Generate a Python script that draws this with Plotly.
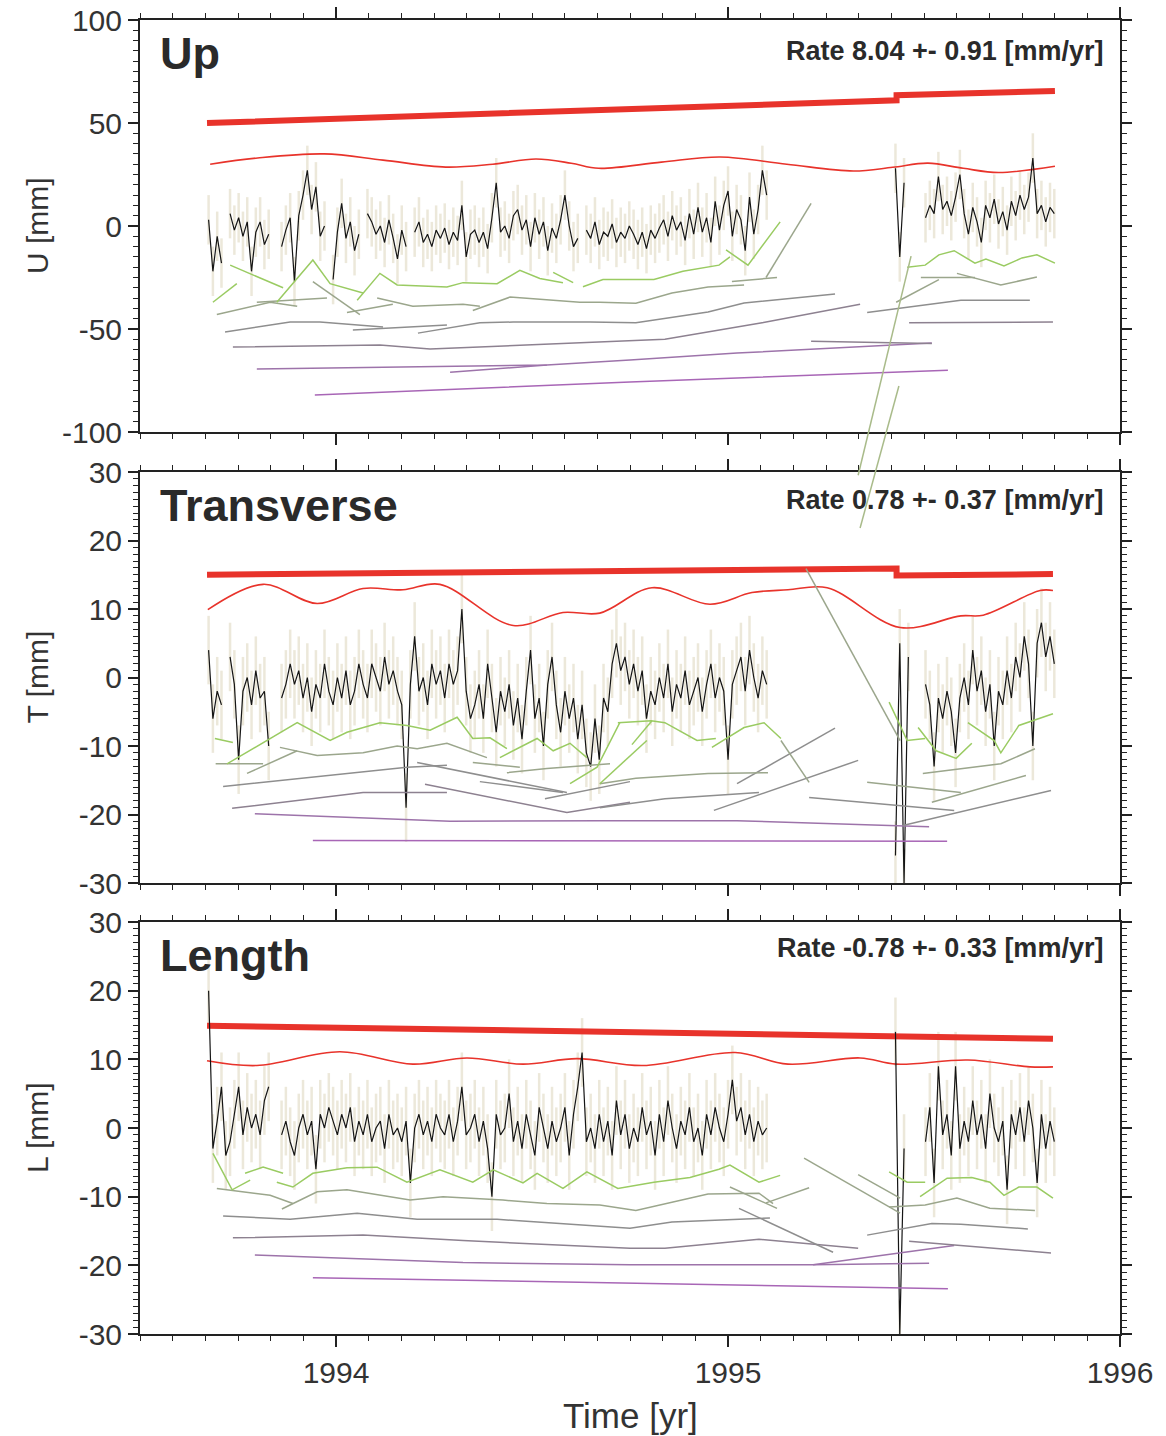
import numpy as np
import plotly.graph_objects as go

FONT = "Liberation Sans, Arial, sans-serif"

# ---------------- sampling epochs (4-day GPS solutions) ----------------
T_START = 1993.675
STEP_DAYS = 4
N_EPOCHS = 198
t_epochs = T_START + np.arange(N_EPOCHS) * STEP_DAYS / 365.25

# ---------------- daily position residuals [mm] ----------------
N_ = None
UP_MM = [3, -22, -5, -18, N_, 6, -2, 4, -5, 2,
         -22, -3, 2, -9, -4, N_, N_, -10, -2, 4,
         -27, 5, 15, 27, 8, 19, -5, 0, N_, -26,
         -3, 11, -6, 2, -12, -4, N_, 6, 2, -4,
         0, -8, 3, -6, -16, -2, -10, N_, -3, 2,
         -8, -4, -10, -2, -6, -1, -9, -3, -7, 10,
         -15, -4, -2, -8, -3, -11, 4, 21, -3, 0,
         -6, 5, 8, -2, 3, -10, 4, -4, 2, -12,
         -1, -6, 3, 15, 0, -10, -6, N_, -2, -6,
         2, -9, -3, -5, 1, -8, -3, -6, 0, -4,
         -9, -3, -11, -2, -6, -1, 3, -5, 5, -2,
         2, -7, 6, -4, 9, -3, 4, -8, 12, -2,
         10, 17, -5, 8, 3, -12, 14, -4, 8, 27,
         15, N_, N_, N_, N_, N_, N_, N_, N_, N_,
         N_, N_, N_, N_, N_, N_, N_, N_, N_, N_,
         N_, N_, N_, N_, N_, N_, N_, N_, N_, N_,
         28, -15, 21, N_, N_, N_, N_, 4, 10, 6,
         24, 8, 12, 5, 14, 25, 6, -4, 9, 2,
         -8, 10, 4, 13, 1, 7, -2, 12, 5, 15,
         8, 14, 33, 6, 10, 2, 9, 6]
TR_MM = [4, -6, -2, -4, N_, 3, -1, -12, -2, 0,
         -4, 1, -3, -2, -10, N_, N_, -3, -1, 2,
         -1, 1, -3, 0, -5, -1, -3, 2, -2, -4,
         0, -3, 1, -4, -2, 2, -1, -3, 2, 0,
         -2, 3, -1, 1, -2, -4, -19, -1, 6, -2,
         0, -4, 2, -1, 1, -3, 2, -1, 1, 10,
         -2, -6, -4, -1, -6, 2, -3, -8, -2, -5,
         -1, -7, -3, -9, -2, 4, -6, -3, -10, -1,
         3, -4, -8, -2, -6, -3, -9, -4, -11, -13,
         -6, -12, -3, -5, 2, 5, 1, 3, -1, 2,
         -2, 1, -6, -2, -4, 0, -3, 2, -5, -1,
         -3, 1, -4, -2, 0, -5, -1, 2, -3, 0,
         -2, -12, -1, 1, 3, -2, 4, 0, -3, 1,
         -1, N_, N_, N_, N_, N_, N_, N_, N_, N_,
         N_, N_, N_, N_, N_, N_, N_, N_, N_, N_,
         N_, N_, N_, N_, N_, N_, N_, N_, N_, N_,
         -26, 5, -30, 3, N_, N_, N_, -1, -4, -13,
         -3, -6, -2, -5, -11, -3, 0, -4, 4, -2,
         1, -5, -1, -10, -2, -4, 1, -3, 3, 0,
         6, 2, -10, 5, 8, 3, 6, 2]
LE_MM = [20, -3, 1, 6, -4, -2, 2, 6, -1, 3,
         0, 2, -1, 4, 6, N_, N_, -1, 1, -2,
         -4, 0, 2, -1, 1, -6, 2, 0, 3, 1,
         -1, 2, 0, 3, -2, 1, -1, 2, -2, 0,
         1, -3, 2, -1, 0, -2, 1, -8, 0, 2,
         -1, 1, -2, 2, 0, -1, 2, -2, 1, 6,
         -1, 0, 2, -2, 1, -3, -10, 2, -1, 0,
         5, -2, 1, -3, 2, -1, -4, 3, 0, -3,
         1, -2, 0, 3, -4, 2, 6, 11, -2, 0,
         -3, 2, -2, 1, -4, 4, -1, 2, -3, 0,
         -2, 3, -1, 1, -4, 2, -2, 4, 0, -3,
         1, -1, 3, -2, 0, -4, 2, -1, 3, 0,
         -2, 2, 7, 1, 3, -1, 2, -2, 1, -1,
         0, N_, N_, N_, N_, N_, N_, N_, N_, N_,
         N_, N_, N_, N_, N_, N_, N_, N_, N_, N_,
         N_, N_, N_, N_, N_, N_, N_, N_, N_, N_,
         14, -30, -3, N_, N_, N_, N_, -2, 3, -8,
         9, -1, 2, -4, 9, -3, 1, -2, 4, -1,
         2, -3, 5, 0, -2, 1, -9, 2, -1, 3,
         -2, 4, 0, -8, 2, -3, 1, -2]
UP_SIGMA = 12
TR_SIGMA = 5
LE_SIGMA = 5

# ---------------- fitted trend (with offset) ----------------
UP_TREND_T = [1993.671, 1995.43, 1995.43, 1995.834]
UP_TREND_V = [50.0, 61.0, 63.5, 65.5]
TR_TREND_T = [1993.671, 1995.43, 1995.43, 1995.829]
TR_TREND_V = [15.0, 15.9, 14.9, 15.1]
LE_TREND_T = [1993.671, 1995.829]
LE_TREND_V = [14.9, 13.0]

# ---------------- seasonal model ----------------
UP_SEAS_T = [1993.679, 1993.80, 1993.97, 1994.12, 1994.28, 1994.40, 1994.51, 1994.60,
             1994.67, 1994.83, 1994.98, 1995.15, 1995.32, 1995.42, 1995.51, 1995.60,
             1995.69, 1995.834]
UP_SEAS_V = [30, 33, 35, 32, 28.6, 30, 32.5, 30.5, 28, 31, 33.5, 30, 26.7, 28.5, 30.5,
             28, 26, 29]
TR_SEAS_T = [1993.673, 1993.814, 1993.952, 1994.069, 1994.171, 1994.265, 1994.452,
             1994.579, 1994.673, 1994.806, 1994.954, 1995.061, 1995.153, 1995.253,
             1995.439, 1995.594, 1995.651, 1995.796, 1995.829]
TR_SEAS_V = [9.9, 13.6, 10.8, 13.0, 12.8, 13.6, 7.6, 9.5, 9.4, 13.1, 10.7, 12.4, 12.8,
             13.1, 7.3, 9.0, 9.1, 12.7, 12.7]
LE_SEAS_T = [1993.671, 1993.798, 1994.010, 1994.196, 1994.334, 1994.477, 1994.615,
             1994.783, 1995.018, 1995.153, 1995.337, 1995.429, 1995.612, 1995.770,
             1995.829]
LE_SEAS_V = [9.8, 9.1, 11.1, 9.3, 10.2, 9.3, 10.1, 9.1, 11.0, 9.3, 10.2, 9.3, 9.9, 8.9, 8.9]

# ---------------- multi-scale piecewise-linear fits (year, mm) ----------------
UP_L1 = [
    [(1993.730, -19), (1993.865, -30)],
    [(1993.686, -37), (1993.747, -28)],
    [(1993.849, -37), (1993.941, -16.5), (1993.985, -28), (1994.069, -32.5)],
    [(1994.054, -36), (1994.112, -23), (1994.156, -28.6), (1994.283, -29.6), (1994.324, -27.5),
     (1994.411, -28), (1994.469, -21.5), (1994.520, -25.5), (1994.579, -27.5)],
    [(1994.554, -22.5), (1994.605, -27.5)],
    [(1994.630, -29.5), (1994.681, -26), (1994.811, -26), (1994.885, -22), (1994.977, -19),
     (1995.005, -15)],
    [(1994.995, -11.6), (1995.051, -19), (1995.133, 2)],
    [(1995.457, -20), (1995.503, -19), (1995.538, -14), (1995.577, -12), (1995.630, -18),
     (1995.658, -16), (1995.704, -19.4), (1995.750, -15.5), (1995.788, -14), (1995.834, -18)],
]
UP_L2 = [
    [(1993.696, -43), (1993.832, -37), (1993.901, -39)],
    [(1993.798, -37), (1993.977, -35)],
    [(1993.941, -27), (1994.061, -43)],
    [(1994.028, -42), (1994.145, -38)],
    [(1994.105, -35), (1994.196, -39), (1994.324, -38), (1994.367, -39)],
    [(1994.349, -41), (1994.444, -34.5), (1994.622, -37), (1994.673, -37), (1994.765, -37.5),
     (1994.857, -32.5), (1994.949, -29.6), (1995.041, -28.6)],
    [(1995.010, -27), (1995.125, -25)],
    [(1995.097, -25), (1995.212, 11)],
    [(1995.429, -37), (1995.538, -26)],
    [(1995.492, -25), (1995.630, -25)],
    [(1995.584, -23), (1995.696, -28.6), (1995.788, -24.8)],
]
UP_CROSS = [
    [(1995.467, -14.6), (1995.332, -121)],
    [(1995.436, -77.7), (1995.337, -146.6)],
]
UP_L3 = [
    [(1993.717, -51.5), (1993.883, -46.6), (1993.959, -46.6), (1994.120, -49)],
    [(1994.043, -50.5), (1994.283, -48)],
    [(1994.209, -52), (1994.367, -47), (1994.452, -46.6), (1994.648, -46.6), (1994.765, -47),
     (1994.949, -41.7), (1995.041, -37.4), (1995.273, -33)],
    [(1995.355, -42), (1995.594, -36), (1995.770, -36)],
]
UP_L4 = [
    [(1993.737, -58.7), (1994.112, -57.8), (1994.240, -59.7), (1994.367, -58.7),
     (1994.673, -56), (1994.839, -55), (1995.087, -47), (1995.337, -38)],
    [(1995.212, -56), (1995.520, -57)],
    [(1995.462, -47), (1995.829, -46.6)],
]
UP_L5 = [
    [(1993.798, -69.4), (1994.538, -67.5), (1994.750, -65), (1995.023, -61.7), (1995.520, -56.8)],
    [(1994.291, -71), (1994.538, -67.5)],
]
UP_L6 = [
    [(1993.946, -82), (1994.750, -75.7), (1995.561, -70)],
]

TR_L1 = [
    [(1993.691, -8.9), (1993.737, -9.5)],
    [(1993.722, -12.6), (1993.824, -9.2), (1993.901, -6.6), (1993.985, -9.2), (1994.028, -8),
     (1994.112, -6.6), (1994.181, -7), (1994.240, -7.7), (1994.309, -5.8), (1994.349, -8.9),
     (1994.393, -8.8), (1994.436, -10.4)],
    [(1994.418, -11.7), (1994.513, -8.9), (1994.554, -10.7), (1994.597, -9.6), (1994.640, -11.7)],
    [(1994.597, -15.5), (1994.666, -13.1), (1994.724, -6.6)],
    [(1994.719, -6.6), (1994.804, -6.3), (1994.839, -6.6), (1994.921, -9.2), (1994.969, -8.9)],
    [(1994.755, -9.8), (1994.806, -6.3)],
    [(1994.959, -10.2), (1995.041, -7.3), (1995.092, -6.6), (1995.135, -8.9)],
    [(1994.673, -15.5), (1994.793, -9.2)],
    [(1995.411, -3.6), (1995.457, -9.2), (1995.503, -8.9)],
    [(1995.485, -7.3), (1995.531, -10.7), (1995.582, -11.8), (1995.622, -9.6)],
    [(1995.612, -6.6), (1995.679, -9.2), (1995.696, -11), (1995.742, -7), (1995.829, -5.3)],
]
TR_L2 = [
    [(1993.693, -12.6), (1993.814, -12.6)],
    [(1993.773, -14), (1993.901, -10.7)],
    [(1993.857, -10.2), (1993.952, -11.4), (1994.069, -11), (1994.156, -10), (1994.207, -10.4),
     (1994.283, -9.6), (1994.385, -11.7)],
    [(1994.349, -12.4), (1994.469, -13.1)],
    [(1994.436, -13.9), (1994.538, -13.3), (1994.699, -12.6)],
    [(1994.673, -15.5), (1994.765, -14.7), (1994.949, -14), (1995.102, -13.9)],
    [(1995.135, -9.2), (1995.207, -15.3)],
    [(1995.199, 15.9), (1995.439, -9.2)],
    [(1995.497, -14), (1995.696, -12.6), (1995.783, -10.4)],
    [(1995.355, -15.3), (1995.594, -16.8)],
    [(1995.520, -18.2), (1995.760, -14.3)],
]
TR_L3 = [
    [(1993.712, -15.9), (1994.181, -13.1), (1994.283, -12.8)],
    [(1994.207, -12.4), (1994.589, -16.8)],
    [(1994.367, -15.2), (1994.579, -16.8)],
    [(1994.533, -17.7), (1994.750, -15.2)],
    [(1995.023, -15.5), (1995.273, -7.4)],
    [(1994.964, -19.4), (1995.332, -12.1)],
    [(1994.673, -19), (1994.839, -17.7), (1995.079, -16.8)],
    [(1995.207, -17.5), (1995.577, -19.4)],
    [(1995.446, -21.6), (1995.824, -16.5)],
]
TR_L4 = [
    [(1993.735, -19.1), (1994.069, -16.8), (1994.283, -16.8)],
    [(1994.227, -15.6), (1994.589, -19.7), (1994.750, -18.2)],
]
TR_L5 = [
    [(1993.793, -19.9), (1994.291, -21.0), (1994.673, -20.9), (1995.023, -20.9), (1995.513, -21.8)],
]
TR_L6 = [
    [(1993.941, -23.8), (1995.559, -23.9)],
]

LE_L1 = [
    [(1993.686, -3.7), (1993.735, -9), (1993.781, -7.6)],
    [(1993.768, -6.6), (1993.814, -5.7), (1993.865, -6.6)],
    [(1993.849, -7.9), (1993.890, -8.6), (1993.941, -6.6), (1994.028, -5.8), (1994.105, -5.7),
     (1994.181, -7.9), (1994.265, -6.1), (1994.349, -7.9), (1994.401, -6.1), (1994.477, -8),
     (1994.513, -6.6), (1994.579, -8.8), (1994.640, -6.4), (1994.719, -8.8), (1994.811, -7.9),
     (1994.903, -7.2), (1994.977, -6), (1995.005, -5.4), (1995.079, -7.9), (1995.133, -6.9)],
    [(1995.411, -6.4), (1995.457, -7.9), (1995.503, -7.9)],
    [(1995.490, -10), (1995.559, -7.3), (1995.622, -7.2), (1995.668, -7.9), (1995.704, -9.8),
     (1995.742, -8.6), (1995.788, -8.6), (1995.829, -10.2)],
]
LE_L2 = [
    [(1993.696, -8.8), (1993.832, -9.8), (1993.890, -11)],
    [(1993.862, -11.8), (1993.952, -9.3), (1994.028, -9), (1994.189, -10.5), (1994.273, -10),
     (1994.426, -10.5), (1994.538, -11), (1994.673, -11.2), (1994.765, -12), (1994.949, -9.6),
     (1995.079, -9.5), (1995.115, -11)],
    [(1995.005, -8.6), (1995.125, -11.7)],
    [(1995.097, -10.9), (1995.207, -8.7)],
    [(1995.411, -11.5), (1995.503, -11.2), (1995.584, -10.2), (1995.668, -11.7), (1995.783, -12)],
    [(1995.332, -6.8), (1995.439, -10.2)],
    [(1995.194, -4.4), (1995.439, -12.4)],
]
LE_L3 = [
    [(1993.712, -12.8), (1993.883, -13.3), (1994.054, -12.4), (1994.207, -13.3), (1994.411, -13.3),
     (1994.750, -14.6), (1994.857, -13.7), (1995.107, -13.1)],
    [(1995.028, -11.7), (1995.268, -18.1)],
    [(1995.355, -15.6), (1995.520, -13.9), (1995.594, -14), (1995.765, -14.7)],
]
LE_L4 = [
    [(1993.737, -16), (1994.069, -15.6), (1994.324, -16.4), (1994.750, -17.5), (1994.839, -17.5),
     (1995.079, -16.2), (1995.332, -17.5)],
    [(1995.462, -16.5), (1995.594, -17.1), (1995.824, -18.2)],
]
LE_L5 = [
    [(1993.793, -18.5), (1994.324, -19.6), (1994.750, -19.9), (1995.217, -19.9), (1995.513, -19.7)],
    [(1995.217, -19.9), (1995.577, -17.1)],
]
LE_L6 = [
    [(1993.941, -21.8), (1994.750, -22.6), (1995.561, -23.4)],
]

PANEL_TITLES = ["Up", "Transverse", "Length"]
Y_TITLES = ["U [mm]", "T [mm]", "L [mm]"]
RATES = ["Rate 8.04 +- 0.91 [mm/yr]", "Rate 0.78 +- 0.37 [mm/yr]", "Rate -0.78 +- 0.33 [mm/yr]"]
Y_RANGES = [(-100, 100), (-30, 30), (-30, 30)]
Y_TICKS = [[-100, -50, 0, 50, 100], [-30, -20, -10, 0, 10, 20, 30], [-30, -20, -10, 0, 10, 20, 30]]
Y_MINOR = [5, 1, 1]
X_RANGE = (1993.5, 1996.0)
X_TICKS = [1994, 1995, 1996]

# ---------------- styles ----------------
RED = "#e8332b"
BLACK = "#151515"
BEIGE = "rgba(200,190,150,0.35)"
LEVEL_COLORS = ["#9acb62", "#9ba68c", "#8e8e8e", "#8d8190", "#9d73aa", "#a866b6"]
FRAME = "#222222"

H, W = 1436, 1166
M_T, M_B, M_L, M_R = 20, 102, 140, 46
PH = H - M_T - M_B
PANEL_PX = [(20, 432), (472, 883), (922, 1334)]
DOMAINS = [((H - M_B - b) / PH, (H - M_B - t) / PH) for t, b in PANEL_PX]

fig = go.Figure()


def add_polys(polys, color, width, xa, ya):
    xs, ys = [], []
    for p in polys:
        for tt, vv in p:
            xs.append(tt)
            ys.append(vv)
        xs.append(None)
        ys.append(None)
    fig.add_trace(go.Scatter(x=xs, y=ys, mode="lines", line=dict(color=color, width=width),
                             hoverinfo="skip", showlegend=False, xaxis=xa, yaxis=ya))


series = [UP_MM, TR_MM, LE_MM]
sigmas = [UP_SIGMA, TR_SIGMA, LE_SIGMA]
trends = [(UP_TREND_T, UP_TREND_V), (TR_TREND_T, TR_TREND_V), (LE_TREND_T, LE_TREND_V)]
seas = [(UP_SEAS_T, UP_SEAS_V), (TR_SEAS_T, TR_SEAS_V), (LE_SEAS_T, LE_SEAS_V)]
levels = [[UP_L1, UP_L2, UP_L3, UP_L4, UP_L5, UP_L6],
          [TR_L1, TR_L2, TR_L3, TR_L4, TR_L5, TR_L6],
          [LE_L1, LE_L2, LE_L3, LE_L4, LE_L5, LE_L6]]

for k in range(3):
    xa = "x" if k == 0 else f"x{k+1}"
    ya = "y" if k == 0 else f"y{k+1}"
    # error bars
    fig.add_trace(go.Scatter(x=t_epochs, y=series[k], mode="markers",
                             marker=dict(size=1, color="rgba(0,0,0,0)"),
                             error_y=dict(type="constant", value=sigmas[k], color=BEIGE,
                                          thickness=2.5, width=0),
                             hoverinfo="skip", showlegend=False, xaxis=xa, yaxis=ya))
    # trend and seasonal
    fig.add_trace(go.Scatter(x=trends[k][0], y=trends[k][1], mode="lines",
                             line=dict(color=RED, width=6), showlegend=False,
                             xaxis=xa, yaxis=ya))
    fig.add_trace(go.Scatter(x=seas[k][0], y=seas[k][1], mode="lines",
                             line=dict(color=RED, width=1.6, shape="spline", smoothing=1.0),
                             showlegend=False, xaxis=xa, yaxis=ya))
    # data
    fig.add_trace(go.Scatter(x=t_epochs, y=series[k], mode="lines",
                             line=dict(color=BLACK, width=1.2), connectgaps=False,
                             showlegend=False, xaxis=xa, yaxis=ya))
    # multiscale fits
    for lv in range(5, -1, -1):
        add_polys(levels[k][lv], LEVEL_COLORS[lv], 1.5, xa, ya)

# overlay axis for the long fits that leave the Up panel
add_polys(UP_CROSS, "#a9bb8a", 1.5, "x4", "y4")

axis_font = dict(family=FONT, size=30, color="#333333")
layout = dict(
    width=W, height=H,
    margin=dict(l=M_L, r=M_R, t=M_T, b=M_B, autoexpand=False),
    paper_bgcolor="white", plot_bgcolor="rgba(0,0,0,0)",
    showlegend=False,
    font=dict(family=FONT, color="#333333"),
)
for k in range(3):
    xname = "xaxis" if k == 0 else f"xaxis{k+1}"
    yname = "yaxis" if k == 0 else f"yaxis{k+1}"
    ya = "y" if k == 0 else f"y{k+1}"
    xa = "x" if k == 0 else f"x{k+1}"
    layout[xname] = dict(
        domain=[0, 1], anchor=ya, range=list(X_RANGE), automargin=False,
        showline=True, linewidth=2, linecolor=FRAME, mirror="ticks",
        ticks="outside", ticklen=11, tickwidth=1.5, tickcolor=FRAME,
        tickmode="array", tickvals=X_TICKS, ticktext=[str(v) for v in X_TICKS],
        showgrid=False, zeroline=False,
        showticklabels=(k == 2), tickfont=axis_font,
        minor=dict(tickmode="linear", tick0=1994, dtick=1 / 12, ticks="outside", ticklen=5,
                   tickwidth=1, tickcolor=FRAME, showgrid=False),
    )
    layout[yname] = dict(
        domain=list(DOMAINS[k]), anchor=xa, range=list(Y_RANGES[k]), automargin=False,
        showline=True, linewidth=2, linecolor=FRAME, mirror="ticks",
        ticks="outside", ticklen=10, tickwidth=1.5, tickcolor=FRAME,
        tickmode="array", tickvals=Y_TICKS[k], ticktext=[str(v) for v in Y_TICKS[k]],
        showgrid=False, zeroline=False,
        tickfont=axis_font,
        minor=dict(tickmode="linear", tick0=0, dtick=Y_MINOR[k], ticks="outside", ticklen=5,
                   tickwidth=1, tickcolor=FRAME, showgrid=False),
    )

# overlay subplot sharing the Up scale but extending down into the Transverse panel
d1b, d1t = DOMAINS[0]
d2b = DOMAINS[1][0]
ylo, yhi = Y_RANGES[0]
per_paper = (yhi - ylo) / (d1t - d1b)
layout["xaxis4"] = dict(domain=[0, 1], anchor="y4", range=list(X_RANGE), visible=False,
                        automargin=False)
layout["yaxis4"] = dict(domain=[d2b, d1t], anchor="x4", automargin=False,
                        range=[yhi - (d1t - d2b) * per_paper, yhi], visible=False)

annotations = []
for k in range(3):
    xr = "x domain" if k == 0 else f"x{k+1} domain"
    yr = "y domain" if k == 0 else f"y{k+1} domain"
    annotations.append(dict(text=f"<b>{PANEL_TITLES[k]}</b>", xref=xr, yref=yr,
                            x=0.018, y=0.918, xanchor="left", yanchor="middle",
                            showarrow=False, font=dict(family=FONT, size=45, color="#2a2a2a")))
    annotations.append(dict(text=f"<b>{RATES[k]}</b>", xref=xr, yref=yr,
                            x=0.985, y=[0.924, 0.932, 0.937][k], xanchor="right",
                            yanchor="middle", showarrow=False,
                            font=dict(family=FONT, size=27, color="#2a2a2a")))
    annotations.append(dict(text=Y_TITLES[k], xref="paper", yref=yr,
                            x=(37 - M_L) / (W - M_L - M_R), y=0.5, xanchor="center",
                            yanchor="middle", textangle=-90, showarrow=False,
                            font=dict(family=FONT, size=30, color="#333333")))
annotations.append(dict(text="Time [yr]", xref="paper", yref="paper", x=0.5,
                        y=-(1415 - (H - M_B)) / PH, xanchor="center", yanchor="middle",
                        showarrow=False, font=dict(family=FONT, size=35, color="#333333")))
layout["annotations"] = annotations

fig.update_layout(**layout)
fig.write_html("out.html")
